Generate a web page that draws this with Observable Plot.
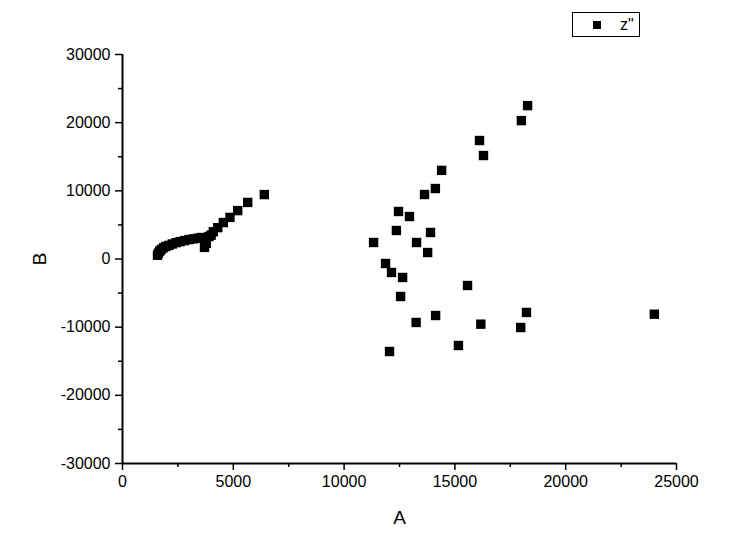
<!DOCTYPE html>
<html>
<head>
<meta charset="utf-8">
<script src="https://cdn.jsdelivr.net/npm/d3@7"></script>
<script src="https://cdn.jsdelivr.net/npm/@observablehq/plot@0.6"></script>
<style>
  html, body { margin: 0; padding: 0; background: #fff; }
  #wrap { position: relative; width: 737px; height: 546px; font-family: "Liberation Sans", Arial, sans-serif; }
  #legend { position: absolute; left: 572px; top: 12px; width: 66px; height: 23px; border: 1px solid #000; background: #fff; }
  #legend .sw { position: absolute; left: 20px; top: 8px; width: 8px; height: 8px; background: #000; }
  #legend .tx { position: absolute; left: 47px; top: 3px; font-size: 16px; }
</style>
</head>
<body>
<div id="wrap"><div id="legend"><div class="sw"></div><div class="tx">z"</div></div></div>
<script>
// Series z" : A (x) and B (y)
const seriesName = 'z"';
const valuesA = [1580, 1620, 1680, 1750, 1850, 1960, 2100, 2250, 2420, 2600, 2800, 3000, 3200, 3400, 3550, 3700, 3780, 3900, 4000, 4100, 4300, 4550, 4850, 5200, 5650, 6400,
  11330, 11870, 12050, 12140, 12360, 12455, 12550, 12640, 12950, 13250, 13270, 13630, 13770, 13900, 14120, 14130, 14400, 15160, 15570, 16110, 16170, 16290, 17970, 18000, 18230, 18280, 24000];
const valuesB = [550, 850, 1150, 1400, 1650, 1850, 2000, 2200, 2400, 2550, 2700, 2850, 2950, 3050, 3150, 1700, 2300, 3300, 3500, 4000, 4600, 5350, 6100, 7100, 8300, 9450,
  2420, -660, -13570, -1980, 4180, 6970, -5500, -2710, 6230, -9310, 2420, 9460, 950, 3890, 10340, -8290, 13000, -12690, -3890, 17380, -9560, 15180, -10050, 20300, -7840, 22500, -8100];
const xTicks = [0, 5000, 10000, 15000, 20000, 25000];
const xMinor = [2500, 7500, 12500, 17500, 22500];
const yTicks = [-30000, -20000, -10000, 0, 10000, 20000, 30000];
const yMinor = [-25000, -15000, -5000, 5000, 15000, 25000];
const xLabel = "A";
const yLabel = "B";

const data = valuesA.map((a, i) => ({A: a, B: valuesB[i]}));

const chart = Plot.plot({
  width: 737, height: 546,
  marginLeft: 122, marginRight: 61, marginTop: 54, marginBottom: 83,
  x: {domain: [0, 25000]},
  y: {domain: [-30000, 30000]},
  style: {fontFamily: "Liberation Sans, Arial, sans-serif", fontSize: "16px", color: "#000", background: "#fff"},
  marks: [
    Plot.axisX({ticks: xTicks, tickSize: 7, tickPadding: 5, tickFormat: d => String(d), strokeWidth: 1.5, label: null}),
    Plot.axisX({ticks: xMinor, tickSize: 4, tickFormat: () => "", strokeWidth: 1.5, label: null}),
    Plot.axisX({ticks: [], label: xLabel, labelAnchor: "center", labelOffset: 60, labelArrow: false, fontSize: 19}),
    Plot.axisY({ticks: yTicks, tickSize: 7, tickPadding: 5, tickFormat: d => String(d), strokeWidth: 1.5, label: null}),
    Plot.axisY({ticks: yMinor, tickSize: 4, tickFormat: () => "", strokeWidth: 1.5, label: null}),
    Plot.axisY({ticks: [], label: yLabel, labelAnchor: "center", labelOffset: 90, labelArrow: false, fontSize: 19}),
    Plot.ruleY([-30000], {strokeWidth: 2}),
    Plot.ruleX([0], {strokeWidth: 2}),
    Plot.dot(data, {x: "A", y: "B", symbol: "square", r: 5.3, fill: "#000", stroke: null})
  ]
});
document.getElementById("wrap").prepend(chart);
</script>
</body>
</html>
